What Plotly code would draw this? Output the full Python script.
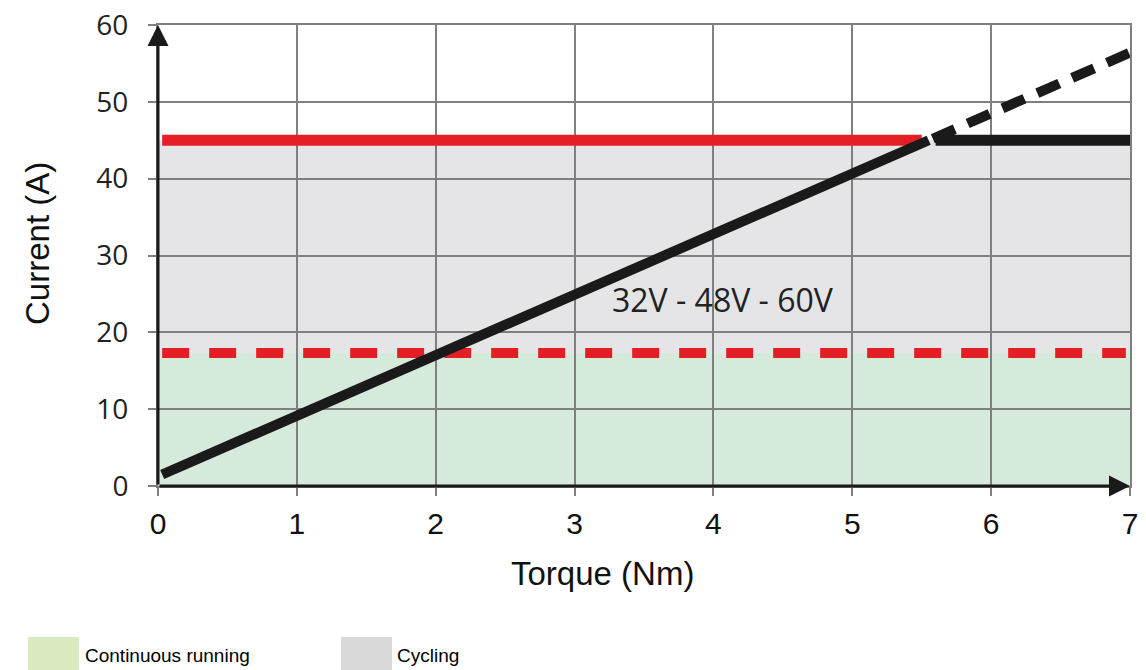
import plotly.graph_objects as go

# ---- data ----
x_ticks = [0, 1, 2, 3, 4, 5, 6, 7]
y_ticks = [0, 10, 20, 30, 40, 50, 60]

# motor characteristic (32V - 48V - 60V)
torque_solid = [0.03, 5.55]
current_solid = [1.5, 45.0]
torque_dashed = [5.58, 7.0]
current_dashed = [45.2, 56.4]

# peak current limit (red) and continuation (black)
peak_x = [0.03, 5.5]
peak_y = [45.0, 45.0]
peak_black_x = [5.6, 7.0]
peak_black_y = [45.0, 45.0]

# continuous current limit (red dashed)
cont_x = [0.03, 6.97]
cont_y = [17.3, 17.3]

# zones
zone_x = [0, 7]
continuous_limit = 17.3
peak_limit = 45.0

curve_label = "32V - 48V - 60V"
label_pos = (4.07, 24.3)
legend_labels = ["Continuous running", "Cycling"]

# ---- styles ----
RED = "#e31e24"
BLACK = "#1a1a1a"
GRID = "#7f7f7f"
GREEN_FILL = "#d6eadb"
GRAY_FILL = "#e5e5e8"
LEG_GREEN = "#d8ebc0"
LEG_GRAY = "#d9d9d9"

fig = go.Figure()

fig.add_trace(go.Scatter(x=cont_x, y=cont_y, mode="lines",
                         line=dict(color=RED, width=10, dash="27px,20px")))
fig.add_trace(go.Scatter(x=peak_x, y=peak_y, mode="lines",
                         line=dict(color=RED, width=11)))
fig.add_trace(go.Scatter(x=peak_black_x, y=peak_black_y, mode="lines",
                         line=dict(color=BLACK, width=11)))
fig.add_trace(go.Scatter(x=torque_solid, y=current_solid, mode="lines",
                         line=dict(color=BLACK, width=10)))
fig.add_trace(go.Scatter(x=torque_dashed, y=current_dashed, mode="lines",
                         line=dict(color=BLACK, width=10, dash="24px,14px")))

# zone fills (below gridlines)
fig.add_shape(type="rect", xref="x", yref="y", layer="below",
              x0=zone_x[0], x1=zone_x[1], y0=0, y1=continuous_limit,
              fillcolor=GREEN_FILL, line=dict(width=0))
fig.add_shape(type="rect", xref="x", yref="y", layer="below",
              x0=zone_x[0], x1=zone_x[1], y0=continuous_limit, y1=peak_limit,
              fillcolor=GRAY_FILL, line=dict(width=0))

# axis arrows
fig.add_annotation(x=0, y=60, ax=0, ay=0, xref="x", yref="y", axref="x", ayref="y",
                   text="", showarrow=True, arrowhead=2, arrowsize=1.4,
                   arrowwidth=3, arrowcolor=BLACK, standoff=0, startstandoff=0)
fig.add_annotation(x=7, y=0, ax=0, ay=0, xref="x", yref="y", axref="x", ayref="y",
                   text="", showarrow=True, arrowhead=2, arrowsize=1.4,
                   arrowwidth=3, arrowcolor=BLACK, standoff=0, startstandoff=0)

# curve label
fig.add_annotation(x=label_pos[0], y=label_pos[1], xref="x", yref="y",
                   xanchor="center", yanchor="middle",
                   text=curve_label, showarrow=False,
                   font=dict(family="Open Sans", size=32, color="#222222"))

# axis titles
fig.add_annotation(x=0, y=0.525, xref="paper", yref="paper", xshift=-120,
                   xanchor="center", yanchor="middle",
                   text="Current (A)", textangle=-90, showarrow=False,
                   font=dict(family="Liberation Sans, Arial", size=33, color="#111111"))
fig.add_annotation(x=0.4568, y=0, xref="paper", yref="paper", yshift=-87,
                   xanchor="center", yanchor="middle",
                   text="Torque (Nm)", showarrow=False,
                   font=dict(family="Liberation Sans, Arial", size=33, color="#111111"))

# legend (boxes + text)
leg_boxes = [(-0.1337, -0.0813, LEG_GREEN), (0.1883, 0.2407, LEG_GRAY)]
leg_text_x = [-0.0772, 0.2438]
for (x0, x1, c), tx, lab in zip(leg_boxes, leg_text_x, legend_labels):
    fig.add_shape(type="rect", xref="paper", yref="paper",
                  x0=x0, x1=x1, y0=-0.3275, y1=-0.40,
                  fillcolor=c, line=dict(width=0))
    fig.add_annotation(x=tx, y=-0.368, xref="paper", yref="paper",
                       xanchor="left", yanchor="middle", text=lab, showarrow=False,
                       font=dict(family="Liberation Sans Narrow, Arial Narrow, Liberation Sans",
                                 size=19, color="#000000"))

fig.update_xaxes(range=[0, 7], tickvals=x_ticks, ticktext=[str(v) for v in x_ticks],
                 showgrid=True, gridcolor=GRID, gridwidth=2, zeroline=False,
                 showline=True, linecolor=GRID, linewidth=2, mirror=True,
                 ticks="outside", ticklen=8, tickwidth=2, tickcolor=GRID,
                 tickfont=dict(family="Liberation Sans, Arial", size=30, color="#111111"),
                 ticklabelstandoff=2, ticklabeloverflow="allow", automargin=False)
fig.update_yaxes(range=[0, 60], tickvals=y_ticks, ticktext=[str(v) for v in y_ticks],
                 showgrid=True, gridcolor=GRID, gridwidth=2, zeroline=False,
                 showline=True, linecolor=GRID, linewidth=2, mirror=True,
                 ticks="outside", ticklen=8, tickwidth=2, tickcolor=GRID,
                 tickfont=dict(family="Open Sans", size=28, color="#222222"),
                 ticklabelstandoff=14, ticklabeloverflow="allow", automargin=False)

# page has an 8px body margin: figure is sized to fill the rest of the window
fig.update_layout(width=1138, height=662, showlegend=False,
                  margin=dict(l=150, r=16, t=17, b=184),
                  plot_bgcolor="white", paper_bgcolor="white")

fig.write_html("out.html")
